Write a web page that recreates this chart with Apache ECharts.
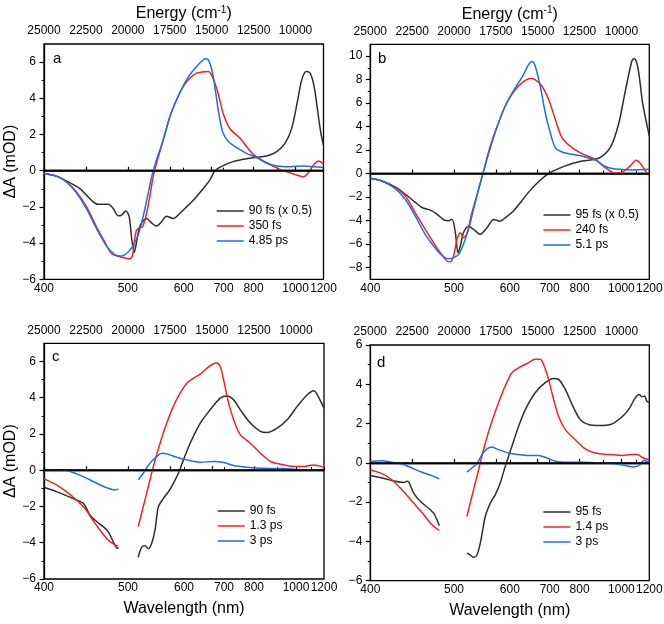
<!DOCTYPE html>
<html><head><meta charset="utf-8">
<script src="https://cdn.jsdelivr.net/npm/echarts@6/dist/echarts.min.js"></script>
<style>html,body{margin:0;padding:0;background:#fff}#c{width:664px;height:624px}</style>
</head><body><div id="c"></div><script>
// Data points: [energy (cm^-1), ΔA (mOD)]; wavelength (nm) = 1e7 / energy
const a_90fs = [[25000,-0.15],[24260,-0.3],[23470,-0.66],[22870,-0.98],[22470,-1.35],[22070,-1.72],[21780,-1.86],[21180,-1.86],[20880,-2.08],[20580,-2.49],[20380,-2.45],[20120,-2.22],[19920,-2.55],[19760,-3.84],[19620,-4.52],[19490,-4.0],[19330,-3.19],[19130,-2.82],[18890,-2.64],[18590,-2.88],[18290,-3.06],[17990,-2.82],[17690,-2.51],[17300,-2.64],[16900,-2.36],[16500,-2.0],[16000,-1.53],[15500,-0.98],[15110,-0.52],[14810,0],[14310,0.28],[13710,0.5],[13110,0.63],[12520,0.72],[11720,0.81],[11120,1.05],[10630,1.51],[10230,2.34],[9870,3.91],[9630,5.02],[9370,5.48],[9130,5.39],[8890,4.65],[8690,3.36],[8490,2.07],[8335,1.42]];
const a_350fs = [[25000,-0.15],[24260,-0.3],[23670,-0.61],[23070,-1.16],[22470,-1.99],[21870,-3.10],[21380,-3.93],[20980,-4.58],[20580,-4.73],[20180,-4.82],[19880,-4.86],[19720,-4.67],[19600,-3.84],[19490,-3.29],[19330,-3.16],[19130,-3.10],[18930,-2.55],[18690,-1.44],[18490,-0.33],[18290,0.41],[17890,1.70],[17490,2.99],[17100,3.91],[16700,4.65],[16300,5.11],[15900,5.39],[15600,5.45],[15200,5.48],[14910,5.08],[14610,4.25],[14310,3.15],[13910,2.32],[13310,1.79],[12520,0.9],[11720,0.44],[10920,0.07],[10130,-0.18],[9530,-0.33],[9230,-0.11],[8930,0.31],[8630,0.54],[8335,0.37]];
const a_485ps = [[25000,-0.15],[24260,-0.3],[23670,-0.61],[23070,-1.22],[22470,-2.09],[21870,-3.19],[21280,-4.15],[20780,-4.63],[20380,-4.71],[19980,-4.49],[19680,-4.12],[19390,-3.56],[19090,-2.55],[18790,-1.26],[18530,-0.15],[18290,0.59],[17890,1.70],[17490,2.99],[17100,3.91],[16700,4.69],[16300,5.30],[15900,5.76],[15500,6.13],[15340,6.18],[15150,6.04],[14910,5.21],[14610,3.36],[14350,2.16],[14010,1.61],[13510,1.27],[12920,0.96],[12320,0.72],[11720,0.41],[11120,0.26],[10330,0.22],[9530,0.26],[8930,0.22],[8335,0.18]];

const b_95fs = [[25000,-0.4],[24300,-0.63],[23510,-1.14],[22910,-1.76],[22310,-2.46],[21910,-2.89],[21420,-3.11],[21020,-3.45],[20620,-3.93],[20320,-4.02],[20120,-3.88],[19920,-5.02],[19760,-6.74],[19620,-6.16],[19430,-5.02],[19130,-4.48],[18830,-4.76],[18430,-5.17],[18030,-4.61],[17630,-3.91],[17240,-4.05],[16940,-3.77],[16440,-3.17],[15540,-1.58],[14950,-0.7],[14350,0],[13350,0.65],[12360,1.07],[11360,1.30],[10670,2.2],[10170,4.2],[9770,7.0],[9370,9.6],[9230,9.8],[9010,9.0],[8730,6.0],[8335,3.2]];
const b_240fs = [[25000,-0.4],[24300,-0.63],[23510,-1.2],[22910,-1.9],[22310,-3.34],[21720,-4.75],[21220,-5.88],[20820,-6.73],[20420,-7.44],[20220,-7.5],[20020,-7.0],[19820,-5.6],[19620,-5.04],[19430,-5.46],[19230,-5.1],[18930,-3.34],[18530,-1.34],[18230,0.22],[17830,2.35],[17340,4.32],[16940,5.75],[16540,6.74],[16140,7.45],[15740,7.93],[15440,8.1],[15150,8.0],[14750,7.45],[14350,6.32],[13950,4.62],[13550,3.06],[12950,2.2],[12360,1.7],[11560,1.2],[10960,0.5],[10370,0.05],[9970,0.1],[9470,0.65],[9130,1.13],[8870,0.87],[8570,0.22],[8335,-0.15]];
const b_51ps = [[25000,-0.4],[24300,-0.63],[23510,-1.28],[22910,-2.19],[22310,-3.62],[21720,-5.17],[21220,-6.16],[20720,-6.96],[20320,-7.25],[20020,-7.16],[19720,-6.88],[19430,-6.0],[19130,-4.73],[18830,-3.03],[18530,-1.34],[18230,0.22],[17830,2.2],[17340,4.32],[16940,5.75],[16540,6.82],[16140,7.73],[15840,8.44],[15540,9.29],[15340,9.54],[15150,9.15],[14850,7.45],[14550,5.18],[14250,3.48],[13950,2.2],[13550,1.84],[12950,1.64],[12360,1.5],[11560,1.15],[10960,0.6],[10370,0.38],[9370,0.31],[8335,0.36]];

const c_90fs_1 = [[25000,-0.94],[24260,-1.18],[23670,-1.40],[23070,-1.64],[22670,-1.82],[22470,-2.10],[22270,-2.47],[21870,-2.83],[21480,-3.11],[21180,-3.39],[20880,-3.94],[20640,-4.31],[20580,-4.25]];
const c_90fs_2 = [[19390,-4.80],[19190,-4.25],[18990,-4.16],[18790,-4.33],[18590,-4.03],[18390,-3.29],[18190,-2.01],[17890,-1.55],[17590,-1.18],[17300,-0.72],[17000,-0.17],[16700,0.57],[16300,1.49],[15700,2.60],[15110,3.33],[14510,3.98],[14110,4.10],[13710,3.88],[13310,3.33],[12720,2.60],[12120,2.14],[11720,2.08],[11120,2.32],[10530,2.78],[9930,3.52],[9330,4.16],[8930,4.38],[8630,3.98],[8335,3.42]];
const c_13ps_1 = [[25000,-0.48],[24260,-0.81],[23670,-1.18],[23070,-1.64],[22570,-2.10],[22170,-2.65],[21680,-3.29],[21180,-3.85],[20780,-4.12],[20580,-4.18]];
const c_13ps_2 = [[19390,-3.11],[19090,-2.01],[18790,-0.90],[18490,0.20],[18090,1.49],[17690,2.60],[17300,3.52],[16900,4.25],[16500,4.80],[16100,5.08],[15700,5.30],[15300,5.63],[14910,5.87],[14710,5.91],[14510,5.72],[14310,4.99],[14010,3.70],[13710,2.78],[13310,1.95],[12720,1.49],[12120,0.94],[11520,0.48],[10920,0.33],[10130,0.20],[9530,0.20],[9030,0.29],[8630,0.24],[8335,0.17]];
const c_3ps_1 = [[25000,0.02],[24260,0.02],[23670,-0.02],[23070,-0.20],[22470,-0.44],[21870,-0.72],[21280,-0.96],[20780,-1.09],[20580,-1.03]];
const c_3ps_2 = [[19390,-0.53],[19090,-0.17],[18690,0.39],[18290,0.75],[17990,0.94],[17690,0.90],[17100,0.72],[16500,0.57],[15700,0.44],[14910,0.48],[14310,0.42],[13710,0.26],[12920,0.17],[11920,0.11],[10730,0.09],[9730,0.02],[9130,-0.02],[8730,0.02],[8335,0.04]];

const d_95fs_1 = [[25000,-0.64],[24300,-0.77],[23510,-0.94],[23010,-1.0],[22810,-0.94],[22670,-1.03],[22410,-1.54],[22010,-1.96],[21520,-2.31],[21220,-2.56],[21020,-2.90],[20880,-3.20]];
const d_95fs_2 = [[19230,-4.60],[19030,-4.69],[18830,-4.81],[18630,-4.69],[18430,-4.09],[18130,-2.73],[17830,-2.05],[17530,-1.62],[17240,-1.03],[16940,-0.18],[16540,0.84],[16140,1.86],[15740,2.71],[15150,3.57],[14550,4.08],[14050,4.30],[13750,4.25],[13350,3.74],[12950,2.98],[12460,2.20],[11960,1.95],[11360,1.90],[10570,1.98],[9970,2.34],[9570,2.71],[9170,3.31],[8930,3.48],[8770,3.36],[8610,3.40],[8480,3.14],[8335,3.09]];
const d_14ps_1 = [[25000,-0.35],[24300,-0.55],[23710,-0.86],[23110,-1.37],[22510,-1.96],[21910,-2.53],[21320,-3.15],[20880,-3.44]];
const d_14ps_2 = [[19230,-2.73],[18930,-1.71],[18530,-0.35],[18130,1.01],[17730,2.12],[17340,3.06],[16940,3.91],[16540,4.59],[16140,4.84],[15540,5.10],[15150,5.27],[14850,5.27],[14650,5.01],[14350,4.25],[14050,3.23],[13750,2.37],[13350,1.69],[12760,1.18],[12160,0.71],[11560,0.50],[10760,0.42],[9970,0.38],[9370,0.43],[9070,0.42],[8670,0.25],[8335,0.16]];
const d_3ps_1 = [[25000,0.08],[24300,0.11],[23710,0.03],[23110,-0.06],[22510,-0.26],[21910,-0.48],[21320,-0.65],[20880,-0.81]];
const d_3ps_2 = [[19230,-0.47],[18930,-0.26],[18630,-0.04],[18330,0.42],[18030,0.71],[17730,0.81],[17340,0.67],[16740,0.50],[16140,0.42],[15540,0.37],[14950,0.37],[14450,0.25],[13950,0.08],[13350,0.03],[12360,0.03],[11360,0.00],[10370,-0.04],[9770,-0.14],[9270,-0.21],[8870,-0.09],[8670,0.13],[8480,0.08],[8335,0.13]];

// Tick labels
const wavelengthTicks = [400, 500, 600, 700, 800, 1000, 1200];
const wavelengthMinor = [900, 1100];
const energyTicks = [25000, 22500, 20000, 17500, 15000, 12500, 10000];

const FONT = "'Liberation Sans', Arial, Helvetica, sans-serif";
const BLACK = '#2e2e2e', RED = '#ee2424', BLUE = '#1c6fe3';
const EMIN = 1e7 / 1200, EMAX = 1e7 / 400;
const GAP = [20000, '-'];
function join(s1, s2) { return s1.concat([GAP], s2); }

const panels = [
  { grid: {left: 44, top: 44, width: 279.5, height: 235.3}, ymin: -6, ymax: 7,
    major: [-6,-4,-2,0,2,4,6], minor: [-5,-3,-1,1,3,5],
    yName: true, eName: true, wName: false, letter: 'a', lp: [53, 51], lg: [216, 205],
    series: [['90 fs (x 0.5)', a_90fs, BLACK], ['350 fs', a_350fs, RED], ['4.85 ps', a_485ps, BLUE]] },
  { grid: {left: 370.3, top: 44.3, width: 279, height: 235}, ymin: -9, ymax: 11,
    major: [-8,-6,-4,-2,0,2,4,6,8,10], minor: [-7,-5,-3,-1,1,3,5,7,9],
    yName: false, eName: true, wName: false, letter: 'b', lp: [378, 51], lg: [542.7, 209],
    series: [['95 fs (x 0.5)', b_95fs, BLACK], ['240 fs', b_240fs, RED], ['5.1 ps', b_51ps, BLUE]] },
  { grid: {left: 44, top: 343.3, width: 280, height: 235.7}, ymin: -6, ymax: 7,
    major: [-6,-4,-2,0,2,4,6], minor: [-5,-3,-1,1,3,5],
    yName: true, eName: false, wName: true, letter: 'c', lp: [52, 349], lg: [217, 505],
    series: [['90 fs', join(c_90fs_1, c_90fs_2), BLACK], ['1.3 ps', join(c_13ps_1, c_13ps_2), RED], ['3 ps', join(c_3ps_1, c_3ps_2), BLUE]] },
  { grid: {left: 370.3, top: 345, width: 279, height: 235.7}, ymin: -6, ymax: 6,
    major: [-6,-4,-2,0,2,4,6], minor: [-5,-3,-1,1,3,5],
    yName: false, eName: false, wName: true, letter: 'd', lp: [377, 355], lg: [542.7, 506],
    series: [['95 fs', join(d_95fs_1, d_95fs_2), BLACK], ['1.4 ps', join(d_14ps_1, d_14ps_2), RED], ['3 ps ', join(d_3ps_1, d_3ps_2), BLUE]] }
];

const option = { animation: false, backgroundColor: '#fff', grid: [], xAxis: [], yAxis: [], series: [], legend: [], graphic: [] };
const axisLine = { show: true, lineStyle: { color: '#000', width: 1.3 } };
const lbl = { color: '#000', fontSize: 12, fontFamily: FONT };

panels.forEach((p, i) => {
  option.grid.push(Object.assign({ show: true, borderColor: '#000', borderWidth: 1.3, backgroundColor: 'transparent', containLabel: false, outerBoundsMode: 'none' }, p.grid));
  // bottom wavelength axis
  option.xAxis.push({
    type: 'value', gridIndex: i, position: 'bottom', inverse: true, min: EMIN, max: EMAX,
    axisLine: axisLine, splitLine: { show: false },
    axisTick: { show: true, inside: true, length: 3, lineStyle: { color: '#000', width: 1 },
      customValues: wavelengthTicks.concat(wavelengthMinor).map(w => 1e7 / w) },
    axisLabel: Object.assign({ margin: 3, customValues: wavelengthTicks.map(w => 1e7 / w),
      formatter: v => String(Math.round(1e7 / v)) }, lbl),
    name: p.wName ? 'Wavelength (nm)' : '', nameLocation: 'middle', nameGap: 22,
    nameTextStyle: { fontSize: 16, color: '#000', fontFamily: FONT }
  });
  // top energy axis
  option.xAxis.push({
    type: 'value', gridIndex: i, position: 'top', inverse: true, min: EMIN, max: EMAX,
    axisLine: axisLine, splitLine: { show: false },
    axisTick: { show: true, inside: false, length: 4, lineStyle: { color: '#000', width: 1.2 }, customValues: energyTicks },
    axisLabel: Object.assign({ margin: 7, customValues: energyTicks, formatter: v => String(Math.round(v)) }, lbl),
    name: p.eName ? '{t|Energy (cm}{s|-1}{t|)}' : '', nameLocation: 'middle', nameGap: 21,
    nameTextStyle: { rich: { t: { fontSize: 16, color: '#000', fontFamily: FONT }, s: { fontSize: 10, color: '#000', fontFamily: FONT, verticalAlign: 'top', padding: [0, 0, 8, 0] } } }
  });
  // left y axis (major)
  option.yAxis.push({
    type: 'value', gridIndex: i, position: 'left', min: p.ymin, max: p.ymax,
    axisLine: axisLine, splitLine: { show: false },
    axisTick: { show: true, inside: false, length: 4.5, lineStyle: { color: '#000', width: 1.2 }, customValues: p.major },
    axisLabel: Object.assign({ margin: 8, customValues: p.major, formatter: v => (v < 0 ? '\u2212' + Math.abs(v) : String(v)) }, lbl),
    name: p.yName ? 'ΔA (mOD)' : '', nameLocation: 'middle', nameGap: 25, nameRotate: 90,
    nameTextStyle: { fontSize: 16, color: '#000', fontFamily: FONT }
  });
  // left y axis (minor ticks)
  option.yAxis.push({
    type: 'value', gridIndex: i, position: 'left', min: p.ymin, max: p.ymax,
    axisLine: { show: false }, splitLine: { show: false }, axisLabel: { show: false },
    axisTick: { show: true, inside: false, length: 2.5, lineStyle: { color: '#000', width: 1 }, customValues: p.minor }
  });
  p.series.forEach((s, k) => {
    const ser = {
      type: 'line', name: s[0], data: s[1], xAxisIndex: 2 * i, yAxisIndex: 2 * i,
      symbol: 'none', smooth: 0.3, connectNulls: false,
      lineStyle: { color: s[2], width: 1.5 }, itemStyle: { color: s[2] }, z: 3 + k
    };
    if (k === 0) {
      ser.markLine = { silent: true, symbol: ['none', 'none'], label: { show: false },
        lineStyle: { color: '#000', width: 1.5, type: 'solid' }, data: [{ yAxis: 0 }], z: 10 };
    }
    option.series.push(ser);
  });
  option.legend.push({
    data: p.series.map(s => s[0]), left: p.lg[0], top: p.lg[1], orient: 'vertical',
    itemWidth: 27, itemHeight: 12, itemGap: 3, padding: 0, selectedMode: false,
    itemStyle: { opacity: 0 }, lineStyle: { width: 1.5 },
    textStyle: { color: '#000', fontSize: 12, fontFamily: FONT }
  });
  option.graphic.push({ type: 'text', left: p.lp[0], top: p.lp[1], style: { text: p.letter, fill: '#000', font: '15px ' + FONT } });
});

const chart = echarts.init(document.getElementById('c'), null, { renderer: 'canvas' });
chart.setOption(option);
</script></body></html>
